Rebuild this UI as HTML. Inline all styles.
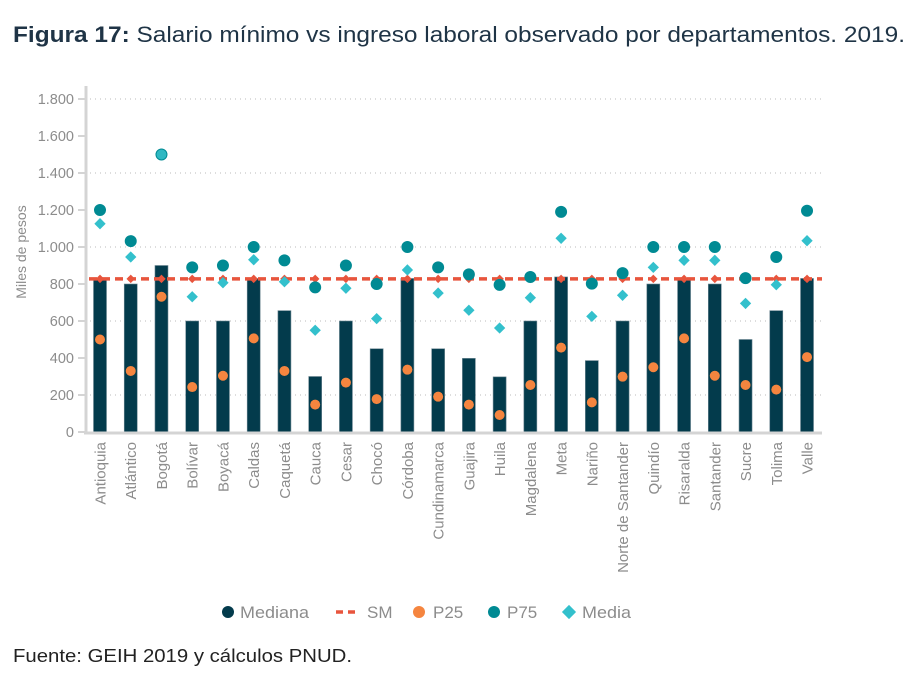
<!DOCTYPE html>
<html><head><meta charset="utf-8"><style>
body{margin:0;background:#fff;width:913px;height:678px;overflow:hidden;font-family:"Liberation Sans",sans-serif}
</style></head><body>
<svg id="chart" width="913" height="678" xmlns="http://www.w3.org/2000/svg" font-family="Liberation Sans, sans-serif">
<text x="13" y="42" font-size="22" fill="#1f3446" textLength="892" lengthAdjust="spacingAndGlyphs"><tspan font-weight="bold">Figura 17:</tspan> Salario mínimo vs ingreso laboral observado por departamentos. 2019.</text>
<text transform="translate(26,252) rotate(-90)" text-anchor="middle" font-size="14" fill="#8c8c8c">Miles de pesos</text>
<g id="grid"></g>
<g id="yticks"></g>
<g id="bars"></g>
<g id="xlabels"></g>
<g id="marks"></g>
<g font-size="17" fill="#8c8c8c">
<g><circle cx="228" cy="612" r="6" fill="#033b4c"/><text x="240" y="618" textLength="69" lengthAdjust="spacingAndGlyphs">Mediana</text></g>
<g><line x1="336" y1="612" x2="360" y2="612" stroke="#e8553d" stroke-width="3.5" stroke-dasharray="7,5"/><text x="367" y="618">SM</text></g>
<g><circle cx="419" cy="612" r="6" fill="#f5853f"/><text x="433" y="618">P25</text></g>
<g><circle cx="494" cy="612" r="6" fill="#008a93"/><text x="507" y="618">P75</text></g>
<g><rect x="564" y="607" width="10" height="10" fill="#33c0cc" transform="rotate(45 569 612)"/><text x="582" y="618" textLength="49" lengthAdjust="spacingAndGlyphs">Media</text></g>
</g>
<text x="13" y="662" font-size="18" fill="#222" textLength="339" lengthAdjust="spacingAndGlyphs">Fuente: GEIH 2019 y cálculos PNUD.</text>
</svg>
<script>
const categories=["Antioquia","Atlántico","Bogotá","Bolívar","Boyacá","Caldas","Caquetá","Cauca","Cesar","Chocó","Córdoba","Cundinamarca","Guajira","Huila","Magdalena","Meta","Nariño","Norte de Santander","Quindío","Risaralda","Santander","Sucre","Tolima","Valle"];
const mediana=[830,800,900,600,600,830,656,300,600,450,830,450,398,298,600,838,386,600,800,830,800,500,656,830];
const p25=[500,330,731,243,304,506,330,148,267,178,337,191,148,92,254,456,160,299,350,506,304,254,229,405];
const p75=[1200,1032,1500,890,900,1000,928,782,900,800,1000,890,852,795,838,1190,802,859,1000,1000,1000,832,946,1196];
const media=[1126,946,1500,731,807,931,812,550,777,613,876,751,658,562,726,1047,625,739,890,928,928,695,796,1034];
const sm=828;
const yTicks=[0,200,400,600,800,1000,1200,1400,1600,1800];
const yTickLabels=["0","200","400","600","800","1.000","1.200","1.400","1.600","1.800"];
const gridVals=[200,600,1000,1400,1800];
const NS="http://www.w3.org/2000/svg";
const y0=432,y1=99,x0=86,x1=822;
function y(v){return y0-(v/1800)*(y0-y1);}
function x(i){return 100+i*30.74;}
function mk(tag,attrs,parent){const e=document.createElementNS(NS,tag);for(const k in attrs)e.setAttribute(k,attrs[k]);parent.appendChild(e);return e;}
const grid=document.getElementById('grid'),yt=document.getElementById('yticks'),bars=document.getElementById('bars'),xl=document.getElementById('xlabels'),marks=document.getElementById('marks');
gridVals.forEach(v=>{const l=mk('line',{x1:x0+4,x2:x1,y1:y(v),y2:y(v),stroke:'#bbb','stroke-width':1,'stroke-dasharray':'1,4'},grid);

});
yTicks.forEach((v,i)=>{const t=mk('text',{x:74,y:y(v)+5,'text-anchor':'end','font-size':14.5,fill:'#8c8c8c'},yt);t.textContent=yTickLabels[i];


const tk=mk('line',{x1:78,x2:85,y1:y(v),y2:y(v),stroke:'#d4d4d4','stroke-width':2},yt);

});
const ya=mk('line',{x1:x0,x2:x0,y1:86,y2:434,stroke:'#d4d4d4','stroke-width':3},yt);


categories.forEach((c,i)=>{const cx=x(i);
const b=mk('rect',{x:cx-6.5,y:y(mediana[i]),width:13,height:y0-y(mediana[i]),fill:'#033b4c',stroke:'#6d8792','stroke-width':0.6},bars);


const t=mk('text',{transform:`translate(${cx+5.5},442) rotate(-90)`,'text-anchor':'end','font-size':15,fill:'#8c8c8c'},xl);t.textContent=c;

});
const xa=mk('line',{x1:x0-2,x2:x1,y1:y0+1,y2:y0+1,stroke:'#d4d4d4','stroke-width':3},bars);


const sl=mk('line',{x1:x0+3,x2:x1,y1:y(sm),y2:y(sm),stroke:'#e8553d','stroke-width':3.5,'stroke-dasharray':'8,5'},marks);


categories.forEach((c,i)=>{const cx=x(i);
const d=mk('rect',{x:cx-3,y:y(sm)-3,width:6,height:6,fill:'#e8553d',transform:`rotate(45 ${cx} ${y(sm)})`},marks);


const p=mk('circle',{cx:cx,cy:y(p25[i]),r:5,fill:'#f5853f'},marks);


const m=mk('rect',{x:cx-4,y:y(media[i])-4,width:8,height:8,fill:'#33c0cc',transform:`rotate(45 ${cx} ${y(media[i])})`},marks);


const q=mk('circle',{cx:cx,cy:y(p75[i]),r:5.5,fill:p75[i]===media[i]?'#2fb8c2':'#008a93',stroke:'#008a93','stroke-width':1},marks);

});
</script>
</body></html>
